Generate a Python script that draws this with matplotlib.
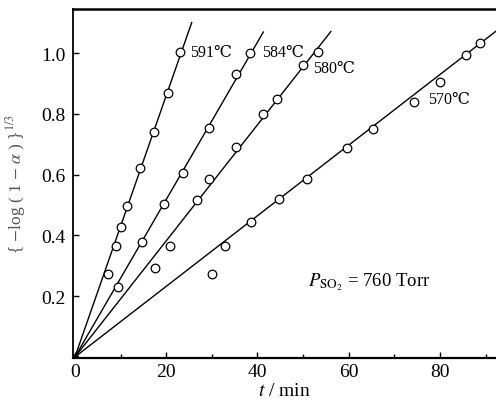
import numpy as np
import matplotlib
matplotlib.use("Agg")
import matplotlib.pyplot as plt

# data: t (min) vs {-log(1-a)}^(1/3)
t_591 = [7.3, 9.0, 10.0, 11.5, 14.3, 17.3, 20.3, 23.0]
y_591 = [0.273, 0.364, 0.428, 0.498, 0.622, 0.741, 0.868, 1.003]

t_584 = [9.5, 14.8, 19.5, 23.8, 29.4, 35.4, 38.3]
y_584 = [0.231, 0.377, 0.503, 0.607, 0.755, 0.932, 1.002]

t_580 = [17.6, 20.8, 26.7, 29.4, 35.3, 41.2, 44.4, 50.1, 53.2]
y_580 = [0.294, 0.364, 0.516, 0.586, 0.692, 0.800, 0.849, 0.962, 1.004]

t_570 = [30.0, 32.9, 38.7, 44.8, 50.9, 59.6, 65.4, 74.4, 80.1, 85.7, 88.8]
y_570 = [0.273, 0.364, 0.446, 0.520, 0.586, 0.687, 0.752, 0.840, 0.906, 0.995, 1.035]

# fitted straight lines through the origin
slopes = [0.0430, 0.0259, 0.0191, 0.01162]
t_end = [25.6, 41.3, 56.1, 95.0]
labels = ["591\u2103", "584\u2103", "580\u2103", "570\u2103"]
label_pos = [(25.2, 1.003), (41.0, 1.003), (52.2, 0.95), (77.4, 0.849)]

serif = ["Liberation Serif", "DejaVu Serif", "Noto Sans CJK SC"]
plt.rcParams["font.family"] = serif
plt.rcParams["mathtext.fontset"] = "stix"

fig = plt.figure(figsize=(4.96, 4.06), dpi=100)
ax = fig.add_axes([0.147, 0.116, 0.853, 0.859])

for k, s in enumerate(slopes):
    tt = np.array([0, t_end[k]])
    ax.plot(tt, s * tt, color="black", lw=1.0)

for tt, yy in [(t_591, y_591), (t_584, y_584), (t_580, y_580), (t_570, y_570)]:
    ax.plot(tt, yy, "o", ms=6.2, mfc="white", mec="black", mew=0.9, zorder=3)
ax.plot([0], [0], "o", ms=4, color="black", zorder=3)

for lab, (x, y) in zip(labels, label_pos):
    ax.text(x, y, lab, fontsize=11.5, va="center", ha="left", family=serif)

ax.text(51.1, 0.25, r"$P_{\mathrm{SO_2}}$" + " = 760 Torr", fontsize=13.5,
        va="center", ha="left")

ax.set_xlim(-0.44, 92.3)
ax.set_ylim(-0.003, 1.145)
ax.set_xticks([0, 20, 40, 60, 80])
ax.set_xticks(np.arange(0, 91, 10), minor=True)
ax.set_yticks([0.2, 0.4, 0.6, 0.8, 1.0])
ax.set_yticklabels(["0.2", "0.4", "0.6", "0.8", "1.0"])
ax.tick_params(direction="in", labelsize=14, length=4, width=1)
ax.tick_params(which="minor", direction="in", length=3, width=1)
ax.tick_params(axis="x", pad=4)
ax.tick_params(axis="y", pad=5)

ax.spines["right"].set_visible(False)
ax.spines["top"].set_linewidth(1.8)
ax.spines["bottom"].set_linewidth(1.6)
ax.spines["left"].set_linewidth(1.3)

ax.set_xlabel(r"$t$ / min", fontsize=14, labelpad=1)
ax.set_ylabel(r"{ $-$log ( 1 $-$ $\alpha$ ) }$^{1/3}$", fontsize=12.5,
              color="#555555", labelpad=10)

fig.savefig("out.png", dpi=100)
